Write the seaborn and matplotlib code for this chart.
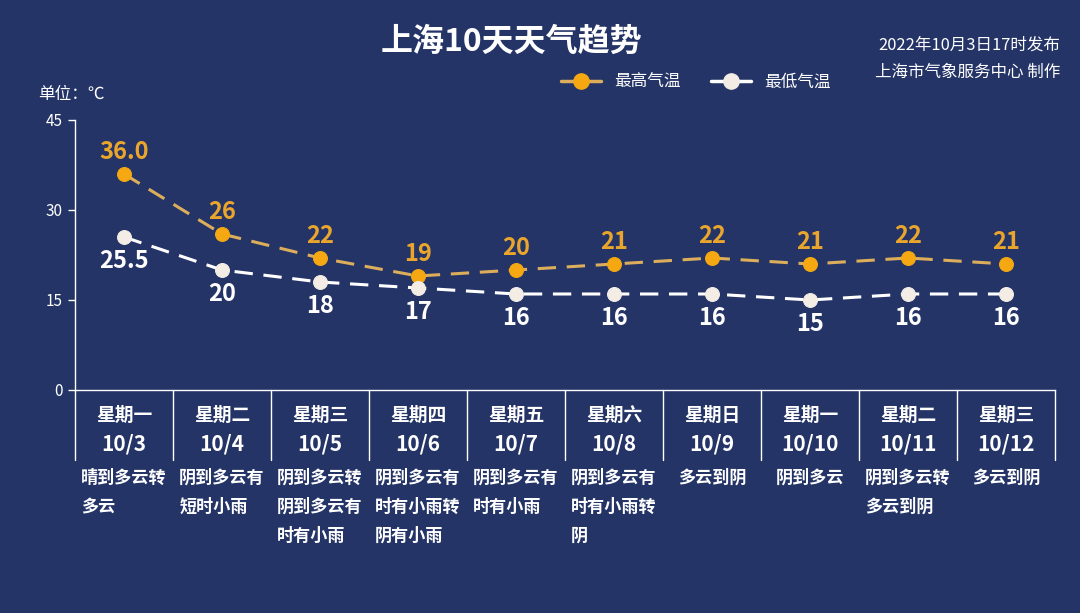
import matplotlib
matplotlib.use("Agg")
import matplotlib.pyplot as plt
import seaborn as sns
import pandas as pd
from matplotlib.lines import Line2D

weekdays = ["星期一", "星期二", "星期三", "星期四", "星期五", "星期六", "星期日", "星期一", "星期二", "星期三"]
dates = ["10/3", "10/4", "10/5", "10/6", "10/7", "10/8", "10/9", "10/10", "10/11", "10/12"]
high_temps = [36.0, 26, 22, 19, 20, 21, 22, 21, 22, 21]
low_temps = [25.5, 20, 18, 17, 16, 16, 16, 15, 16, 16]
high_labels = ["36.0", "26", "22", "19", "20", "21", "22", "21", "22", "21"]
low_labels = ["25.5", "20", "18", "17", "16", "16", "16", "15", "16", "16"]
weather = [
    ["晴到多云转", "多云"],
    ["阴到多云有", "短时小雨"],
    ["阴到多云转", "阴到多云有", "时有小雨"],
    ["阴到多云有", "时有小雨转", "阴有小雨"],
    ["阴到多云有", "时有小雨"],
    ["阴到多云有", "时有小雨转", "阴"],
    ["多云到阴"],
    ["阴到多云"],
    ["阴到多云转", "多云到阴"],
    ["多云到阴"],
]
y_ticks = [0, 15, 30, 45]
title = "上海10天天气趋势"
series_names = ["最高气温", "最低气温"]

BG = "#243466"
ORANGE = "#f5a811"
ORANGE_LINE = "#dcae5c"
ORANGE_TXT = "#eaa62c"
WHITE_M = "#f3ede6"
WHITE = "#ffffff"

sns.set_theme(style="white")
plt.rcParams["font.family"] = ["Noto Sans CJK SC", "DejaVu Sans"]

df = pd.DataFrame({"idx": list(range(len(dates))), "high": high_temps, "low": low_temps})

fig = plt.figure(figsize=(10.8, 6.13), dpi=100, facecolor=BG)
W, H = 1080, 613
left, right, top, bottom = 75, 1055, 120, 390
ax = fig.add_axes([left / W, 1 - bottom / H, (right - left) / W, (bottom - top) / H])
ax.set_facecolor(BG)

for col, lc, mc in [("high", ORANGE_LINE, ORANGE), ("low", WHITE, WHITE_M)]:
    sns.lineplot(data=df, x="idx", y=col, ax=ax, color=lc, linewidth=2.2, legend=False)
    ln = ax.lines[-1]
    ln.set_linestyle((0, (6, 3.5)))
    ln.set_marker("o")
    ln.set_markersize(10)
    ln.set_markerfacecolor(mc)
    ln.set_markeredgecolor(mc)

for i, (h, l) in enumerate(zip(high_temps, low_temps)):
    ax.annotate(high_labels[i], (i, h), xytext=(0, 16), textcoords="offset points",
                ha="center", va="center", color=ORANGE_TXT, fontsize=17, fontweight="bold")
    ax.annotate(low_labels[i], (i, l), xytext=(0, -17), textcoords="offset points",
                ha="center", va="center", color=WHITE, fontsize=17, fontweight="bold")

ax.set_xlim(-0.5, len(dates) - 0.5)
ax.set_ylim(0, 45)
ax.set_yticks(y_ticks)
ax.set_yticklabels([str(t) for t in y_ticks], color=WHITE, fontsize=11)
ax.tick_params(axis="y", length=5, width=1, color=WHITE, left=True, pad=4)
ax.set_xticks([])
ax.set_xlabel("")
ax.set_ylabel("")
for s in ["top", "right"]:
    ax.spines[s].set_visible(False)
for s in ["left", "bottom"]:
    ax.spines[s].set_color(WHITE)
    ax.spines[s].set_linewidth(1)

# category boxes
xt = ax.get_xaxis_transform()
px = lambda ypix: -(ypix - bottom) / (bottom - top)
for b in range(len(dates) + 1):
    ax.plot([b - 0.5, b - 0.5], [0, px(460)], transform=xt, color=WHITE,
            linewidth=1, clip_on=False)

fig.canvas.draw()
renderer = fig.canvas.get_renderer()
unit_px = (right - left) / len(dates)
for i in range(len(dates)):
    ax.text(i, px(415), weekdays[i], transform=xt, ha="center", va="center",
            color=WHITE, fontsize=13.5, fontweight="bold")
    ax.text(i, px(444), dates[i], transform=xt, ha="center", va="center",
            color=WHITE, fontsize=15, fontweight="bold")
    texts = []
    for k, line in enumerate(weather[i]):
        t = ax.text(i, px(478 + 29 * k), line, transform=xt, ha="left",
                    va="center", color=WHITE, fontsize=12.3, fontweight="bold")
        texts.append(t)
    maxw = max(t.get_window_extent(renderer).width for t in texts)
    for t in texts:
        t.set_x(i - (maxw / 2) / unit_px)

# header texts
fig.text(511 / W, 1 - 42 / H, title, ha="center", va="center", color=WHITE,
         fontsize=23, fontweight="bold")
fig.text(1060 / W, 1 - 45 / H, "2022年10月3日17时发布", ha="right", va="center",
         color=WHITE, fontsize=11.9)
fig.text(1060 / W, 1 - 72 / H, "上海市气象服务中心 制作", ha="right", va="center",
         color=WHITE, fontsize=11.9)
fig.text(38 / W, 1 - 94 / H, "单位：℃", ha="left", va="center", color=WHITE,
         fontsize=12)

# legend
handles = [
    Line2D([], [], color=ORANGE_LINE, linewidth=2.5, marker="o", markersize=11,
           markerfacecolor=ORANGE, markeredgecolor=ORANGE),
    Line2D([], [], color=WHITE, linewidth=2.5, marker="o", markersize=11,
           markerfacecolor=WHITE_M, markeredgecolor=WHITE_M),
]
leg = fig.legend(handles, series_names, loc="center left",
                 bbox_to_anchor=(546 / W, 1 - 82 / H), ncol=2, frameon=False,
                 handlelength=2.4, columnspacing=1.8, handletextpad=0.8,
                 fontsize=12)
for t in leg.get_texts():
    t.set_color(WHITE)

fig.savefig("out.png", dpi=100, facecolor=BG)
